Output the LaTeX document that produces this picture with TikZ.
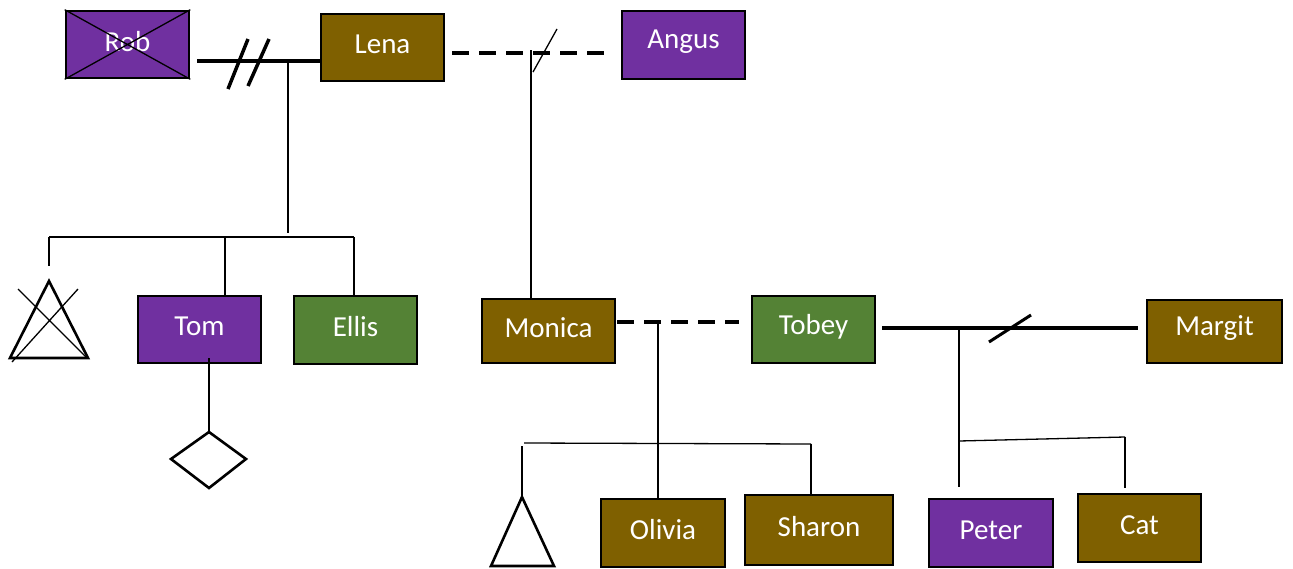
\documentclass[tikz,border=0pt]{standalone}
\usepackage{fontspec}
\setmainfont{Carlito}
\definecolor{purp}{HTML}{7030A0}
\definecolor{brwn}{HTML}{7F6000}
\definecolor{grn}{HTML}{548235}
\newcommand\liftxt[1]{\raisebox{3pt}[\height][\depth]{#1}}
\begin{document}
\begin{tikzpicture}[x=1pt,y=-1pt,
  pbox/.style={draw=black,line width=2.6pt,text=white,inner sep=0pt,
    font=\fontsize{29}{32}\selectfont},
  thickline/.style={line width=4pt},
  dashline/.style={line width=4pt,dash pattern=on 17pt off 10pt},
  thinline/.style={line width=1.3pt},
  symb/.style={line width=2.6pt,line join=miter}]
\useasboundingbox (0,0) rectangle (1293,568);
% boxes
\node[pbox,fill=purp,minimum width=123,minimum height=67] (rob) at (127.5,44.5) {\liftxt{Rob}};
\draw[thinline] (rob.north west) -- (rob.south east) (rob.south west) -- (rob.north east);
\node[pbox,fill=brwn,minimum width=123,minimum height=67] (lena) at (382.5,47.5) {\liftxt{Lena}};
\node[pbox,fill=purp,minimum width=123,minimum height=68] (angus) at (683.5,45) {\liftxt{Angus}};
\node[pbox,fill=purp,minimum width=123,minimum height=67] (tom) at (199.5,329.5) {\liftxt{Tom}};
\node[pbox,fill=grn,minimum width=123,minimum height=68] (ellis) at (355.5,330) {\liftxt{Ellis}};
\node[pbox,fill=brwn,minimum width=133,minimum height=64] (monica) at (548.5,331) {\liftxt{Monica}};
\node[pbox,fill=grn,minimum width=123,minimum height=67] (tobey) at (813.5,329.5) {\liftxt{Tobey}};
\node[pbox,fill=brwn,minimum width=135,minimum height=63] (margit) at (1214.5,331.5) {\liftxt{Margit}};
\node[pbox,fill=brwn,minimum width=124,minimum height=68] (olivia) at (663,533) {\liftxt{Olivia}};
\node[pbox,fill=brwn,minimum width=148,minimum height=70] (sharon) at (819,530) {\liftxt{Sharon}};
\node[pbox,fill=purp,minimum width=124,minimum height=68] (peter) at (991,533) {\liftxt{Peter}};
\node[pbox,fill=brwn,minimum width=123,minimum height=68] (cat) at (1139.5,528) {\liftxt{Cat}};
% Rob - Lena
\coordinate (rl) at (197,61);
\coordinate (rlj) at (288,61);
\draw[thickline] (rl) -- (lena.west |- rl);
\draw[line width=3.5pt] (228,89) -- (248,39) (248,86) -- (269,39);
\coordinate (rlb) at (288,233);
\draw[thinline] (rlj) -- (rlb);
\coordinate (c1l) at (49,237);
\coordinate (c1r) at (354,237);
\draw[thinline] (c1l) -- (c1r);
\coordinate (c1a) at (49,266);
\coordinate (c1t) at (225,237);
\draw[thinline] (c1l) -- (c1a);
\draw[thinline] (c1t) -- (tom.north -| c1t);
\draw[thinline] (c1r) -- (ellis.north -| c1r);
% crossed triangle
\coordinate (tri1) at (49,281);
\draw[symb] (tri1) -- (88,358) -- (10,358) -- cycle;
\draw[thinline] (18,289) -- (87,358) (78,289) -- (12,362);
% Tom - diamond
\coordinate (dia) at (209,432);
\draw[thinline] (209,358) -- (dia);
\draw[symb] (dia) -- (246,459) -- (209,488) -- (171,459) -- cycle;
% Lena - Angus
\coordinate (la) at (452,53);
\draw[dashline] (la) -- (607,53);
\coordinate (laj) at (531,50);
\draw[thinline] (laj) -- (monica.north -| laj);
\draw[line width=1.3pt] (533,72) -- (557,29);
% Monica - Tobey
\coordinate (mt) at (617,322);
\draw[dashline] (mt) -- (739,322);
\coordinate (mtj) at (658,322);
\draw[thinline] (mtj) -- (olivia.north -| mtj);
\coordinate (c2l) at (524,443);
\coordinate (c2r) at (811,444);
\draw[thinline] (c2l) -- (c2r);
\draw[thinline] (c2r) -- (sharon.north -| c2r);
\coordinate (tri2) at (522,497);
\draw[thinline] (522,446) -- (tri2);
\draw[symb] (tri2) -- (554,566) -- (491,566) -- cycle;
% Tobey - Margit
\coordinate (tm) at (882,328);
\draw[thickline] (tm) -- (1138,328);
\draw[line width=3pt] (989,342) -- (1031,315);
\coordinate (tmj) at (959,328);
\coordinate (tmb) at (959,487);
\draw[thinline] (tmj) -- (tmb);
\coordinate (c3l) at (959,441);
\coordinate (c3r) at (1125,437);
\draw[thinline] (c3l) -- (c3r);
\draw[thinline] (c3r) -- (1125,488);
\end{tikzpicture}
\end{document}
